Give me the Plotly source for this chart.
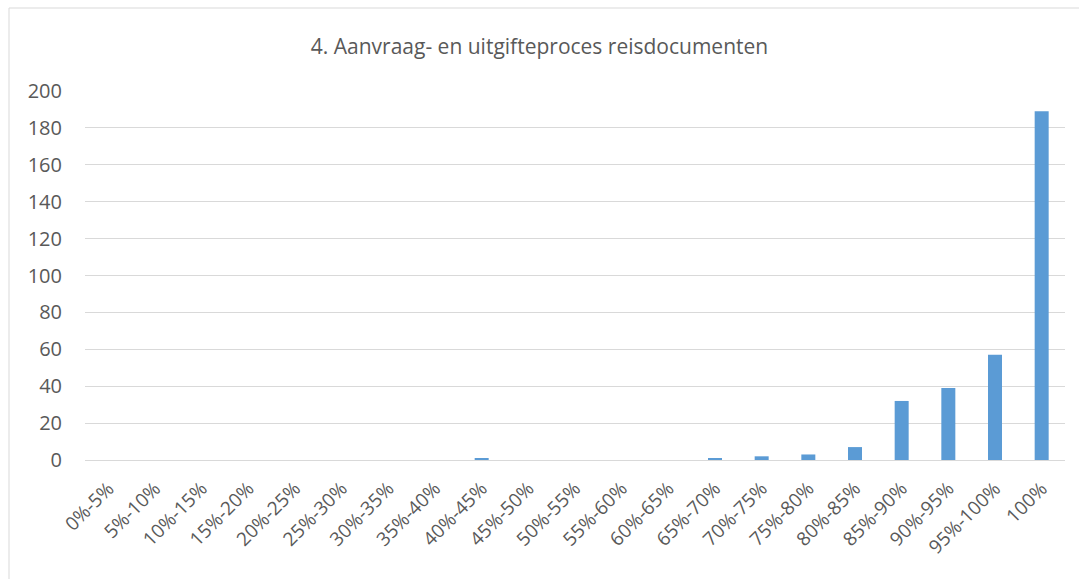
import plotly.graph_objects as go

categories = ["0%-5%", "5%-10%", "10%-15%", "15%-20%", "20%-25%", "25%-30%", "30%-35%",
              "35%-40%", "40%-45%", "45%-50%", "50%-55%", "55%-60%", "60%-65%", "65%-70%",
              "70%-75%", "75%-80%", "80%-85%", "85%-90%", "90%-95%", "95%-100%", "100%"]
values = [0, 0, 0, 0, 0, 0, 0, 0, 1, 0, 0, 0, 0, 1, 2, 3, 7, 32, 39, 57, 189]
y_ticks = [0, 20, 40, 60, 80, 100, 120, 140, 160, 180, 200]
title_text = "4. Aanvraag- en uitgifteproces reisdocumenten"

W, H = 1079, 579
L, R, T, B = 85, 14, 91, 119
pw, ph = W - L - R, H - T - B

def px_to_paper_x(px):
    return (px - L) / pw

def py_to_paper_y(py):
    return (H - B - py) / ph

fig = go.Figure(go.Bar(
    x=categories, y=values,
    marker=dict(color="#5B9BD5", line=dict(width=0)),
))

fig.update_layout(
    width=W, height=H,
    margin=dict(l=L, r=R, t=T, b=B),
    paper_bgcolor="white", plot_bgcolor="white",
    bargap=0.7,
    showlegend=False,
    font=dict(family="Open Sans, Liberation Sans, sans-serif", color="#595959", size=20),
    title=dict(text=title_text, x=0.5, xanchor="center", y=1 - 47 / H, yanchor="middle",
               font=dict(size=21, color="#595959")),
    xaxis=dict(tickangle=-45, showgrid=False, showline=True, linecolor="#D9D9D9", linewidth=1,
               ticks="", ticklabelstandoff=9, tickfont=dict(size=19, color="#595959")),
    yaxis=dict(range=[0, 200], tickvals=y_ticks, showgrid=True, gridcolor="#D9D9D9", gridwidth=1,
               zeroline=False, showline=False, ticks="", ticklen=0, ticklabelstandoff=22,
               tickfont=dict(size=20, color="#595959")),
    shapes=[dict(type="rect", xref="paper", yref="paper",
                 x0=px_to_paper_x(9), x1=px_to_paper_x(W + 10),
                 y0=py_to_paper_y(H + 10), y1=py_to_paper_y(8),
                 line=dict(color="#D9D9D9", width=1), fillcolor="rgba(0,0,0,0)", layer="below")],
)

fig.write_html("out.html", config={"displayModeBar": False},
               post_script="document.body.style.margin='0';document.body.style.overflow='hidden';")
